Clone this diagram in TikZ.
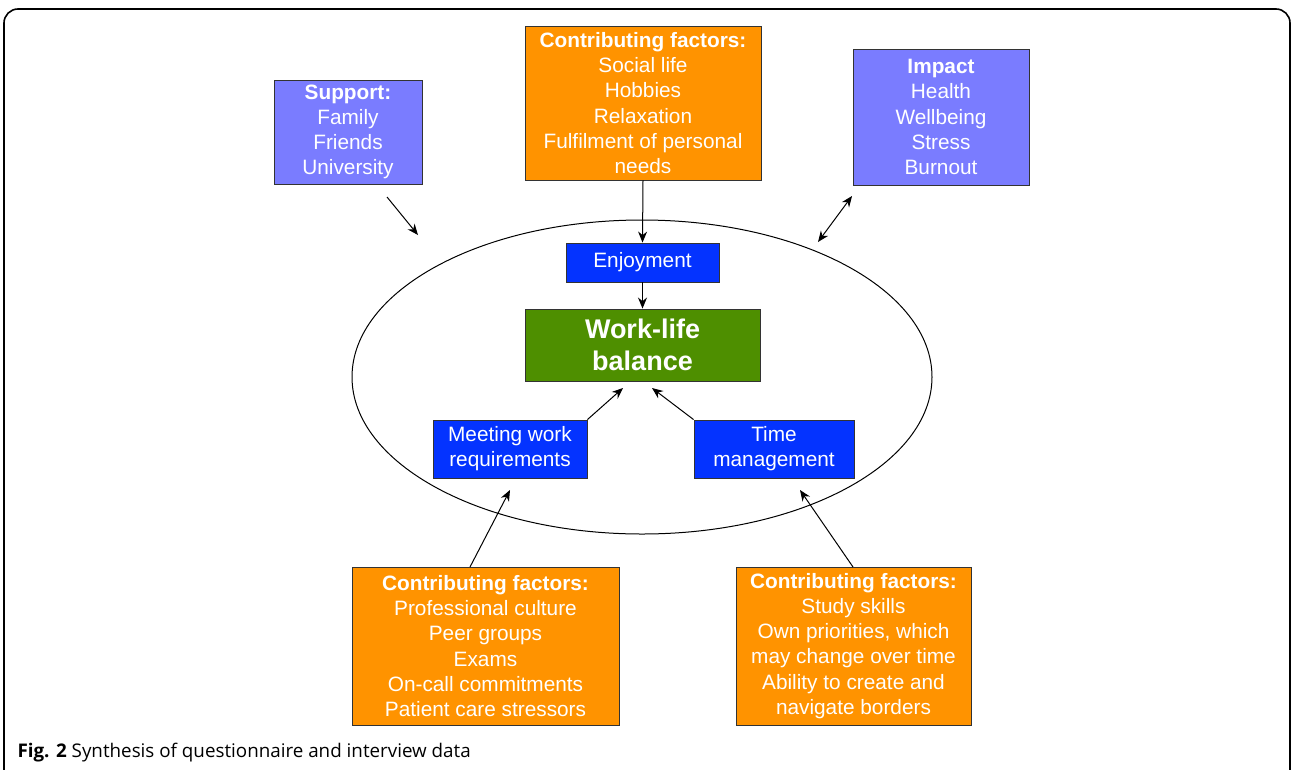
\documentclass[tikz,border=0pt]{standalone}
\usepackage{fontspec}
\setmainfont{Liberation Sans}
\newfontfamily\capfont{Open Sans}
\usetikzlibrary{shapes.geometric,arrows.meta}

\definecolor{suppurple}{HTML}{7A7CFF}
\definecolor{cforange}{HTML}{FF9300}
\definecolor{midblue}{HTML}{0433FF}
\definecolor{wlbgreen}{HTML}{4E8F00}

\begin{document}
\begin{tikzpicture}[x=1pt, y=-1pt,
    every node/.style = {align=center, text=white, font=\fontsize{20.8}{25.2}\selectfont},
    box/.style = {draw=black!80, line width=0.9pt, inner sep=0pt},
    pbox/.style = {box, fill=suppurple},
    obox/.style = {box, fill=cforange},
    bbox/.style = {box, fill=midblue},
    arr/.style = {-{Stealth[length=11pt,width=9pt]}, line width=1pt},
    darr/.style = {{Stealth[length=11pt,width=9pt]}-{Stealth[length=11pt,width=9pt]}, line width=1pt}]
\useasboundingbox (0,0) rectangle (1293,769);
\draw[line width=1.6pt, rounded corners=14pt] (4,9) -- (1290,9) -- (1290,800) -- (4,800) -- cycle;

\node[draw, ellipse, line width=1pt, minimum width=580pt, minimum height=314pt] (ring) at (642,377) {};

\node[pbox, minimum width=148pt, minimum height=104pt] (sup) at (348,132)
    {\textbf{Support:}\\Family\\Friends\\University};
\node[obox, minimum width=236pt, minimum height=154pt] (cftop) at (643,103)
    {\textbf{Contributing factors:}\\Social life\\Hobbies\\Relaxation\\Fulfilment of personal\\needs};
\node[pbox, minimum width=176pt, minimum height=136pt] (imp) at (941,117)
    {\textbf{Impact}\\Health\\Wellbeing\\Stress\\Burnout};

\node[bbox, minimum width=153pt, minimum height=39pt] (enjoy) at (642.5,262.5) {Enjoyment};
\node[box, fill=wlbgreen, minimum width=235pt, minimum height=72pt,
    font=\fontsize{27}{32}\selectfont\bfseries] (wlb) at (642.5,345) {Work-life\\balance};
\node[bbox, minimum width=154pt, minimum height=58pt] (meet) at (510,449)
    {Meeting work\\requirements};
\node[bbox, minimum width=160pt, minimum height=58pt] (time) at (774,449)
    {Time\\management};

\node[obox, minimum width=267pt, minimum height=158pt] (cfleft) at (485.5,646)
    {\textbf{Contributing factors:}\\Professional culture\\Peer groups\\Exams\\On-call commitments\\Patient care stressors};
\node[obox, minimum width=235pt, minimum height=158pt] (cfright) at (853.5,646)
    {\textbf{Contributing factors:}\\Study skills\\Own priorities, which\\may change over time\\Ability to create and\\navigate borders};

% free ends of the connectors
\coordinate (supfrom) at (387,197);
\coordinate (supto) at (418,235);
\coordinate (impfrom) at (818,242);
\coordinate (impto) at (852,196);
\coordinate (meetto) at (623,388);
\coordinate (timeto) at (652,388);
\coordinate (leftfrom) at (470,567);
\coordinate (leftto) at (510,490);
\coordinate (rightfrom) at (853,567);
\coordinate (rightto) at (800,490);

\draw[arr] (supfrom) -- (supto);
\draw[arr] (cftop.south) -- (enjoy.north);
\draw[arr] (enjoy.south) -- (wlb.north);
\draw[darr] (impfrom) -- (impto);
\draw[arr] (meet.north east) -- (meetto);
\draw[arr] (time.north west) -- (timeto);
\draw[arr] (leftfrom) -- (leftto);
\draw[arr] (rightfrom) -- (rightto);

\node[anchor=base west, text=black, font=\capfont\fontsize{18.8}{22}\selectfont] (cap) at (14,757)
    {\textbf{Fig. 2} Synthesis of questionnaire and interview data};
\end{tikzpicture}
\end{document}
